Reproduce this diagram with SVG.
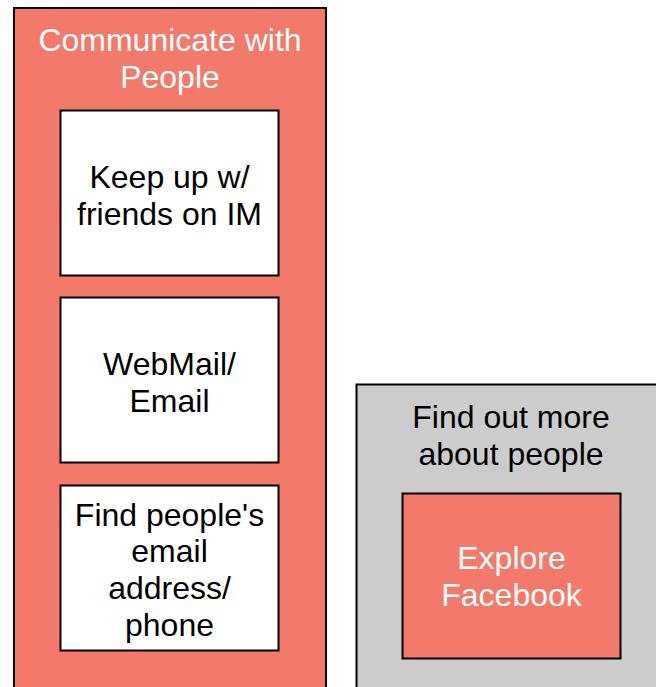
<svg xmlns="http://www.w3.org/2000/svg" width="656" height="687" viewBox="0 0 656 687">
<style>
text{font-family:"Liberation Sans",Arial,Helvetica,sans-serif;font-size:32px;text-anchor:middle}
.c{fill:#F37A6B;stroke:#000;stroke-width:2}
.w{fill:#fff;stroke:#000;stroke-width:2}
.g{fill:#CCCCCC;stroke:#000;stroke-width:2}
.lt{fill:#fff}
.dk{fill:#000}
</style>
<rect width="656" height="687" fill="#fff"/>
<g id="communicate">
<rect class="c" x="14" y="8" width="312" height="690"/>
<text class="lt" x="170" y="51">Communicate with</text>
<text class="lt" x="170" y="88">People</text>
</g>
<g id="im">
<rect class="w" x="60.5" y="110.5" width="218" height="165"/>
<text class="dk" x="169.5" y="188">Keep up w/</text>
<text class="dk" x="169.5" y="225">friends on IM</text>
</g>
<g id="webmail">
<rect class="w" x="60.5" y="297.5" width="218" height="165"/>
<text class="dk" x="169.5" y="375">WebMail/</text>
<text class="dk" x="169.5" y="412">Email</text>
</g>
<g id="findemail">
<rect class="w" x="60.5" y="485.5" width="218" height="165"/>
<text class="dk" x="169.5" y="526">Find people's</text>
<text class="dk" x="169.5" y="562">email</text>
<text class="dk" x="169.5" y="599">address/</text>
<text class="dk" x="169.5" y="636">phone</text>
</g>
<g id="findout">
<rect class="g" x="356.5" y="384.5" width="310" height="320"/>
<text class="dk" x="511" y="428">Find out more</text>
<text class="dk" x="511" y="465">about people</text>
</g>
<g id="facebook">
<rect class="c" x="402.5" y="493.5" width="218" height="165"/>
<text class="lt" x="511.5" y="569">Explore</text>
<text class="lt" x="511.5" y="606">Facebook</text>
</g>
<g id="connectors"></g>
</svg>
